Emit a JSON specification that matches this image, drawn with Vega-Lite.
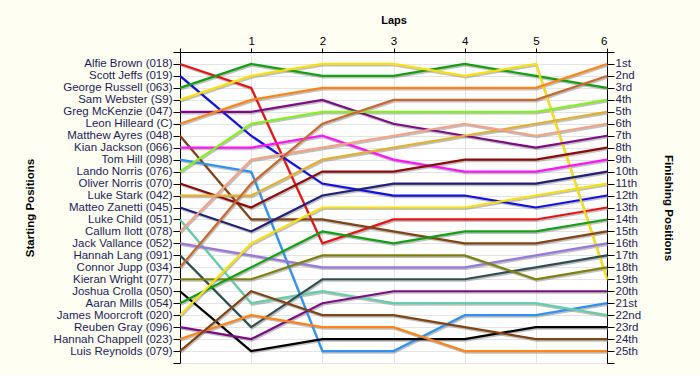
{
  "$schema": "https://vega.github.io/schema/vega-lite/v6.json",
  "width": 427,
  "height": 311,
  "autosize": "none",
  "padding": {"left": 180, "top": 52, "right": 93, "bottom": 12},
  "background": "#FFFEF3",
  "config": {"view": {"fill": "#FFFFFF", "stroke": null}, "font": "Liberation Sans"},
  "datasets": {
    "race": [
      {"driver": "Alfie Brown (018)", "lap": 0, "pos": 1}, {"driver": "Alfie Brown (018)", "lap": 1, "pos": 3}, {"driver": "Alfie Brown (018)", "lap": 2, "pos": 16}, {"driver": "Alfie Brown (018)", "lap": 3, "pos": 14}, {"driver": "Alfie Brown (018)", "lap": 4, "pos": 14}, {"driver": "Alfie Brown (018)", "lap": 5, "pos": 14}, {"driver": "Alfie Brown (018)", "lap": 6, "pos": 13},
      {"driver": "Scott Jeffs (019)", "lap": 0, "pos": 2}, {"driver": "Scott Jeffs (019)", "lap": 1, "pos": 7}, {"driver": "Scott Jeffs (019)", "lap": 2, "pos": 11}, {"driver": "Scott Jeffs (019)", "lap": 3, "pos": 12}, {"driver": "Scott Jeffs (019)", "lap": 4, "pos": 12}, {"driver": "Scott Jeffs (019)", "lap": 5, "pos": 13}, {"driver": "Scott Jeffs (019)", "lap": 6, "pos": 12},
      {"driver": "George Russell (063)", "lap": 0, "pos": 3}, {"driver": "George Russell (063)", "lap": 1, "pos": 1}, {"driver": "George Russell (063)", "lap": 2, "pos": 2}, {"driver": "George Russell (063)", "lap": 3, "pos": 2}, {"driver": "George Russell (063)", "lap": 4, "pos": 1}, {"driver": "George Russell (063)", "lap": 5, "pos": 2}, {"driver": "George Russell (063)", "lap": 6, "pos": 3},
      {"driver": "Sam Webster (S9)", "lap": 0, "pos": 4}, {"driver": "Sam Webster (S9)", "lap": 1, "pos": 2}, {"driver": "Sam Webster (S9)", "lap": 2, "pos": 1}, {"driver": "Sam Webster (S9)", "lap": 3, "pos": 1}, {"driver": "Sam Webster (S9)", "lap": 4, "pos": 2}, {"driver": "Sam Webster (S9)", "lap": 5, "pos": 1}, {"driver": "Sam Webster (S9)", "lap": 6, "pos": 19},
      {"driver": "Greg McKenzie (047)", "lap": 0, "pos": 5}, {"driver": "Greg McKenzie (047)", "lap": 1, "pos": 5}, {"driver": "Greg McKenzie (047)", "lap": 2, "pos": 4}, {"driver": "Greg McKenzie (047)", "lap": 3, "pos": 6}, {"driver": "Greg McKenzie (047)", "lap": 4, "pos": 7}, {"driver": "Greg McKenzie (047)", "lap": 5, "pos": 8}, {"driver": "Greg McKenzie (047)", "lap": 6, "pos": 7},
      {"driver": "Leon Hilleard (C)", "lap": 0, "pos": 6}, {"driver": "Leon Hilleard (C)", "lap": 1, "pos": 4}, {"driver": "Leon Hilleard (C)", "lap": 2, "pos": 3}, {"driver": "Leon Hilleard (C)", "lap": 3, "pos": 3}, {"driver": "Leon Hilleard (C)", "lap": 4, "pos": 3}, {"driver": "Leon Hilleard (C)", "lap": 5, "pos": 3}, {"driver": "Leon Hilleard (C)", "lap": 6, "pos": 1},
      {"driver": "Matthew Ayres (048)", "lap": 0, "pos": 7}, {"driver": "Matthew Ayres (048)", "lap": 1, "pos": 14}, {"driver": "Matthew Ayres (048)", "lap": 2, "pos": 14}, {"driver": "Matthew Ayres (048)", "lap": 3, "pos": 15}, {"driver": "Matthew Ayres (048)", "lap": 4, "pos": 16}, {"driver": "Matthew Ayres (048)", "lap": 5, "pos": 16}, {"driver": "Matthew Ayres (048)", "lap": 6, "pos": 15},
      {"driver": "Kian Jackson (066)", "lap": 0, "pos": 8}, {"driver": "Kian Jackson (066)", "lap": 1, "pos": 8}, {"driver": "Kian Jackson (066)", "lap": 2, "pos": 7}, {"driver": "Kian Jackson (066)", "lap": 3, "pos": 9}, {"driver": "Kian Jackson (066)", "lap": 4, "pos": 10}, {"driver": "Kian Jackson (066)", "lap": 5, "pos": 10}, {"driver": "Kian Jackson (066)", "lap": 6, "pos": 9},
      {"driver": "Tom Hill (098)", "lap": 0, "pos": 9}, {"driver": "Tom Hill (098)", "lap": 1, "pos": 10}, {"driver": "Tom Hill (098)", "lap": 2, "pos": 25}, {"driver": "Tom Hill (098)", "lap": 3, "pos": 25}, {"driver": "Tom Hill (098)", "lap": 4, "pos": 22}, {"driver": "Tom Hill (098)", "lap": 5, "pos": 22}, {"driver": "Tom Hill (098)", "lap": 6, "pos": 21},
      {"driver": "Lando Norris (076)", "lap": 0, "pos": 10}, {"driver": "Lando Norris (076)", "lap": 1, "pos": 6}, {"driver": "Lando Norris (076)", "lap": 2, "pos": 5}, {"driver": "Lando Norris (076)", "lap": 3, "pos": 5}, {"driver": "Lando Norris (076)", "lap": 4, "pos": 5}, {"driver": "Lando Norris (076)", "lap": 5, "pos": 5}, {"driver": "Lando Norris (076)", "lap": 6, "pos": 4},
      {"driver": "Oliver Norris (070)", "lap": 0, "pos": 11}, {"driver": "Oliver Norris (070)", "lap": 1, "pos": 13}, {"driver": "Oliver Norris (070)", "lap": 2, "pos": 10}, {"driver": "Oliver Norris (070)", "lap": 3, "pos": 10}, {"driver": "Oliver Norris (070)", "lap": 4, "pos": 9}, {"driver": "Oliver Norris (070)", "lap": 5, "pos": 9}, {"driver": "Oliver Norris (070)", "lap": 6, "pos": 8},
      {"driver": "Luke Stark (042)", "lap": 0, "pos": 12}, {"driver": "Luke Stark (042)", "lap": 1, "pos": 12}, {"driver": "Luke Stark (042)", "lap": 2, "pos": 9}, {"driver": "Luke Stark (042)", "lap": 3, "pos": 8}, {"driver": "Luke Stark (042)", "lap": 4, "pos": 7}, {"driver": "Luke Stark (042)", "lap": 5, "pos": 6}, {"driver": "Luke Stark (042)", "lap": 6, "pos": 5},
      {"driver": "Matteo Zanetti (045)", "lap": 0, "pos": 13}, {"driver": "Matteo Zanetti (045)", "lap": 1, "pos": 15}, {"driver": "Matteo Zanetti (045)", "lap": 2, "pos": 12}, {"driver": "Matteo Zanetti (045)", "lap": 3, "pos": 11}, {"driver": "Matteo Zanetti (045)", "lap": 4, "pos": 11}, {"driver": "Matteo Zanetti (045)", "lap": 5, "pos": 11}, {"driver": "Matteo Zanetti (045)", "lap": 6, "pos": 10},
      {"driver": "Luke Child (051)", "lap": 0, "pos": 14}, {"driver": "Luke Child (051)", "lap": 1, "pos": 21}, {"driver": "Luke Child (051)", "lap": 2, "pos": 20}, {"driver": "Luke Child (051)", "lap": 3, "pos": 21}, {"driver": "Luke Child (051)", "lap": 4, "pos": 21}, {"driver": "Luke Child (051)", "lap": 5, "pos": 21}, {"driver": "Luke Child (051)", "lap": 6, "pos": 22},
      {"driver": "Callum Ilott (078)", "lap": 0, "pos": 15}, {"driver": "Callum Ilott (078)", "lap": 1, "pos": 9}, {"driver": "Callum Ilott (078)", "lap": 2, "pos": 8}, {"driver": "Callum Ilott (078)", "lap": 3, "pos": 7}, {"driver": "Callum Ilott (078)", "lap": 4, "pos": 6}, {"driver": "Callum Ilott (078)", "lap": 5, "pos": 7}, {"driver": "Callum Ilott (078)", "lap": 6, "pos": 6},
      {"driver": "Jack Vallance (052)", "lap": 0, "pos": 16}, {"driver": "Jack Vallance (052)", "lap": 1, "pos": 17}, {"driver": "Jack Vallance (052)", "lap": 2, "pos": 18}, {"driver": "Jack Vallance (052)", "lap": 3, "pos": 18}, {"driver": "Jack Vallance (052)", "lap": 4, "pos": 18}, {"driver": "Jack Vallance (052)", "lap": 5, "pos": 17}, {"driver": "Jack Vallance (052)", "lap": 6, "pos": 16},
      {"driver": "Hannah Lang (091)", "lap": 0, "pos": 17}, {"driver": "Hannah Lang (091)", "lap": 1, "pos": 23}, {"driver": "Hannah Lang (091)", "lap": 2, "pos": 19}, {"driver": "Hannah Lang (091)", "lap": 3, "pos": 19}, {"driver": "Hannah Lang (091)", "lap": 4, "pos": 19}, {"driver": "Hannah Lang (091)", "lap": 5, "pos": 18}, {"driver": "Hannah Lang (091)", "lap": 6, "pos": 17},
      {"driver": "Connor Jupp (034)", "lap": 0, "pos": 18}, {"driver": "Connor Jupp (034)", "lap": 1, "pos": 11}, {"driver": "Connor Jupp (034)", "lap": 2, "pos": 6}, {"driver": "Connor Jupp (034)", "lap": 3, "pos": 4}, {"driver": "Connor Jupp (034)", "lap": 4, "pos": 4}, {"driver": "Connor Jupp (034)", "lap": 5, "pos": 4}, {"driver": "Connor Jupp (034)", "lap": 6, "pos": 2},
      {"driver": "Kieran Wright (077)", "lap": 0, "pos": 19}, {"driver": "Kieran Wright (077)", "lap": 1, "pos": 19}, {"driver": "Kieran Wright (077)", "lap": 2, "pos": 17}, {"driver": "Kieran Wright (077)", "lap": 3, "pos": 17}, {"driver": "Kieran Wright (077)", "lap": 4, "pos": 17}, {"driver": "Kieran Wright (077)", "lap": 5, "pos": 19}, {"driver": "Kieran Wright (077)", "lap": 6, "pos": 18},
      {"driver": "Joshua Crolla (050)", "lap": 0, "pos": 20}, {"driver": "Joshua Crolla (050)", "lap": 1, "pos": 25}, {"driver": "Joshua Crolla (050)", "lap": 2, "pos": 24}, {"driver": "Joshua Crolla (050)", "lap": 3, "pos": 24}, {"driver": "Joshua Crolla (050)", "lap": 4, "pos": 24}, {"driver": "Joshua Crolla (050)", "lap": 5, "pos": 23}, {"driver": "Joshua Crolla (050)", "lap": 6, "pos": 23},
      {"driver": "Aaran Mills (054)", "lap": 0, "pos": 21}, {"driver": "Aaran Mills (054)", "lap": 1, "pos": 18}, {"driver": "Aaran Mills (054)", "lap": 2, "pos": 15}, {"driver": "Aaran Mills (054)", "lap": 3, "pos": 16}, {"driver": "Aaran Mills (054)", "lap": 4, "pos": 15}, {"driver": "Aaran Mills (054)", "lap": 5, "pos": 15}, {"driver": "Aaran Mills (054)", "lap": 6, "pos": 14},
      {"driver": "James Moorcroft (020)", "lap": 0, "pos": 22}, {"driver": "James Moorcroft (020)", "lap": 1, "pos": 16}, {"driver": "James Moorcroft (020)", "lap": 2, "pos": 13}, {"driver": "James Moorcroft (020)", "lap": 3, "pos": 13}, {"driver": "James Moorcroft (020)", "lap": 4, "pos": 13}, {"driver": "James Moorcroft (020)", "lap": 5, "pos": 12}, {"driver": "James Moorcroft (020)", "lap": 6, "pos": 11},
      {"driver": "Reuben Gray (096)", "lap": 0, "pos": 23}, {"driver": "Reuben Gray (096)", "lap": 1, "pos": 24}, {"driver": "Reuben Gray (096)", "lap": 2, "pos": 21}, {"driver": "Reuben Gray (096)", "lap": 3, "pos": 20}, {"driver": "Reuben Gray (096)", "lap": 4, "pos": 20}, {"driver": "Reuben Gray (096)", "lap": 5, "pos": 20}, {"driver": "Reuben Gray (096)", "lap": 6, "pos": 20},
      {"driver": "Hannah Chappell (023)", "lap": 0, "pos": 24}, {"driver": "Hannah Chappell (023)", "lap": 1, "pos": 22}, {"driver": "Hannah Chappell (023)", "lap": 2, "pos": 23}, {"driver": "Hannah Chappell (023)", "lap": 3, "pos": 23}, {"driver": "Hannah Chappell (023)", "lap": 4, "pos": 25}, {"driver": "Hannah Chappell (023)", "lap": 5, "pos": 25}, {"driver": "Hannah Chappell (023)", "lap": 6, "pos": 25},
      {"driver": "Luis Reynolds (079)", "lap": 0, "pos": 25}, {"driver": "Luis Reynolds (079)", "lap": 1, "pos": 20}, {"driver": "Luis Reynolds (079)", "lap": 2, "pos": 22}, {"driver": "Luis Reynolds (079)", "lap": 3, "pos": 22}, {"driver": "Luis Reynolds (079)", "lap": 4, "pos": 23}, {"driver": "Luis Reynolds (079)", "lap": 5, "pos": 24}, {"driver": "Luis Reynolds (079)", "lap": 6, "pos": 24}
    ]
  },
  "data": {"name": "race"},
  "layer": [
    {
      "mark": {"type": "line", "strokeWidth": 2.2, "color": "#8C8C8C", "opacity": 0.55, "xOffset": 1, "yOffset": 1.5},
      "encoding": {
        "x": {"field": "lap", "type": "quantitative",
          "scale": {"domain": [0, 6], "nice": false, "zero": false},
          "axis": {"orient": "top", "values": [0, 1, 2, 3, 4, 5, 6], "labelExpr": "datum.value == 0 ? '' : '' + datum.value",
            "tickSize": 4, "tickColor": "#000000", "domainColor": "#000000", "labelColor": "#000000", "labelFontSize": 11.5, "labelPadding": 2,
            "grid": true, "gridColor": "#E4E4E4", "title": "Laps", "titleFontSize": 11, "titleFontWeight": "bold", "titleColor": "#000000", "titlePadding": 10}},
        "y": {"field": "pos", "type": "quantitative",
          "scale": {"domain": [0, 26], "reverse": true, "nice": false, "zero": false},
          "axis": {"orient": "left", "values": [0, 1, 2, 3, 4, 5, 6, 7, 8, 9, 10, 11, 12, 13, 14, 15, 16, 17, 18, 19, 20, 21, 22, 23, 24, 25, 26],
            "labelExpr": "['', 'Alfie Brown (018)', 'Scott Jeffs (019)', 'George Russell (063)', 'Sam Webster (S9)', 'Greg McKenzie (047)', 'Leon Hilleard (C)', 'Matthew Ayres (048)', 'Kian Jackson (066)', 'Tom Hill (098)', 'Lando Norris (076)', 'Oliver Norris (070)', 'Luke Stark (042)', 'Matteo Zanetti (045)', 'Luke Child (051)', 'Callum Ilott (078)', 'Jack Vallance (052)', 'Hannah Lang (091)', 'Connor Jupp (034)', 'Kieran Wright (077)', 'Joshua Crolla (050)', 'Aaran Mills (054)', 'James Moorcroft (020)', 'Reuben Gray (096)', 'Hannah Chappell (023)', 'Luis Reynolds (079)', ''][datum.value]",
            "labelOverlap": false, "labelFlush": false, "labelFontSize": 11.5, "labelColor": "#1C1C58", "labelPadding": 1,
            "tickSize": 7, "tickColor": "#000000", "domainColor": "#000000",
            "grid": true, "gridColor": "#E4E4E4",
            "title": "Starting Positions", "titleFontSize": 11.5, "titleFontWeight": "bold", "titleColor": "#000000", "titlePadding": 18}},
        "detail": {"field": "driver"}
      }
    },
    {
      "mark": {"type": "line", "strokeWidth": 2.2},
      "encoding": {
        "x": {"field": "lap", "type": "quantitative", "scale": {"domain": [0, 6], "nice": false, "zero": false}},
        "y": {"field": "pos", "type": "quantitative",
          "scale": {"domain": [0, 26], "reverse": true, "nice": false, "zero": false},
          "axis": {"orient": "right", "values": [0, 1, 2, 3, 4, 5, 6, 7, 8, 9, 10, 11, 12, 13, 14, 15, 16, 17, 18, 19, 20, 21, 22, 23, 24, 25, 26],
            "labelExpr": "(datum.value == 0 || datum.value == 26) ? '' : datum.value + ((datum.value % 10 == 1 && datum.value != 11) ? 'st' : (datum.value % 10 == 2 && datum.value != 12) ? 'nd' : (datum.value % 10 == 3 && datum.value != 13) ? 'rd' : 'th')",
            "labelOverlap": false, "labelFlush": false, "labelFontSize": 11.5, "labelColor": "#1C1C58", "labelPadding": 1,
            "tickSize": 7, "tickColor": "#000000", "domainColor": "#000000", "grid": false,
            "title": "Finishing Positions", "titleAngle": 90, "titleFontSize": 11.5, "titleFontWeight": "bold", "titleColor": "#000000", "titlePadding": 22}},
        "color": {"field": "driver", "type": "nominal", "legend": null,
          "scale": {
            "domain": ["Alfie Brown (018)", "Scott Jeffs (019)", "George Russell (063)", "Sam Webster (S9)", "Greg McKenzie (047)", "Leon Hilleard (C)", "Matthew Ayres (048)", "Kian Jackson (066)", "Tom Hill (098)", "Lando Norris (076)", "Oliver Norris (070)", "Luke Stark (042)", "Matteo Zanetti (045)", "Luke Child (051)", "Callum Ilott (078)", "Jack Vallance (052)", "Hannah Lang (091)", "Connor Jupp (034)", "Kieran Wright (077)", "Joshua Crolla (050)", "Aaran Mills (054)", "James Moorcroft (020)", "Reuben Gray (096)", "Hannah Chappell (023)", "Luis Reynolds (079)"],
            "range": ["#E81212", "#1010E0", "#12A012", "#F8E010", "#7B0C85", "#FF8418", "#7F4515", "#FF14FF", "#3092F0", "#84F020", "#8B0A0A", "#E0B030", "#202078", "#66CDAA", "#F4A286", "#9878DC", "#2F4F4F", "#C8682C", "#808010", "#000000", "#12A012", "#F8E010", "#7B0C85", "#FF8418", "#7F4515"]}}
      }
    }
  ],
  "resolve": {"scale": {"y": "independent"}, "axis": {"y": "independent"}}
}
